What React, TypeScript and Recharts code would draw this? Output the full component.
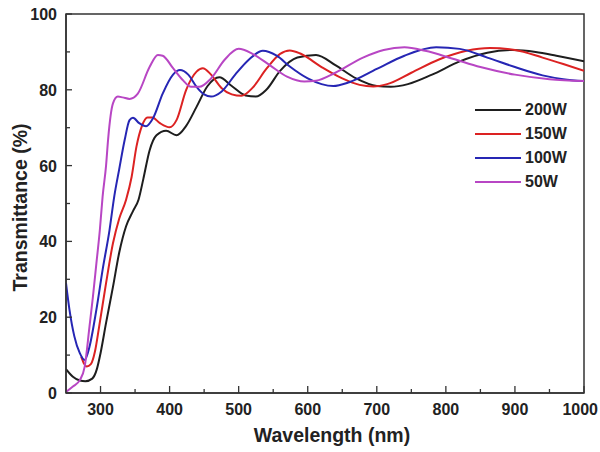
import React from 'react';
import { LineChart, Line, XAxis, YAxis, Legend, ReferenceArea, Label } from 'recharts';

// Wavelength (nm) / Transmittance (%) pairs for each sputtering power
const w200 = [250, 260, 270, 278, 288, 295, 300, 308, 318, 327, 337, 347, 355, 362, 371, 381, 395, 410, 424, 439, 455, 472, 490, 510, 525, 540, 560, 585, 612, 640, 670, 700, 720, 745, 780, 820, 860, 897, 930, 960, 1000];
const t200 = [6.3, 4.3, 3.3, 3.1, 3.8, 6.5, 10.5, 18.5, 28, 37, 44, 48, 51, 56.5, 64, 68, 69.2, 68, 70.5, 75.5, 81, 83.3, 81, 78.5, 78.2, 80, 85, 88.5, 89.2, 86.5, 83, 81, 80.8, 81.5, 84, 87.5, 89.8, 90.5, 90, 89, 87.5];

const w150 = [272, 276, 280, 286, 292, 298, 308, 318, 327, 337, 345, 352, 360, 368, 375, 386, 400, 410, 424, 439, 448, 460, 475, 490, 504, 520, 540, 560, 574, 590, 620, 650, 675, 695, 715, 750, 790, 830, 864, 900, 940, 970, 1000];
const t150 = [9.6, 7.8, 7.0, 7.6, 11, 17.5, 29, 39.5, 46, 51, 57, 65, 70.5, 72.7, 72.7, 71.2, 70.1, 72, 80, 84.8, 85.7, 84, 80.5, 78.8, 78.4, 80.5, 85.5, 89.5, 90.4, 89.5, 86, 83, 81.3, 80.9, 81.5, 84.5, 88, 90.3, 91, 90.5, 88.5, 86.8, 85];

const w100 = [250, 255, 262, 270, 277, 284, 294, 303, 313, 320, 327, 335, 342, 347, 356, 366, 376, 390, 405, 415, 427, 439, 450, 460, 475, 495, 515, 535, 555, 575, 600, 620, 637, 660, 700, 740, 786, 820, 860, 900, 940, 970, 1000];
const t100 = [29, 22, 15, 10.5, 8.7, 12.2, 22, 32.5, 43, 52, 59, 66.8, 72, 72.6, 71.2, 70.4, 72.5, 79, 84, 85.2, 84, 80.8, 78.8, 78.2, 79.5, 84, 88, 90.3, 89, 86, 83, 81.5, 81, 82, 85.5, 89, 91.2, 90.8, 88.5, 86, 83.8, 82.8, 82.3];

const w50 = [250, 260, 270, 277, 284, 289, 294, 299, 303, 308, 311, 318, 325, 332, 342, 354, 371, 383, 390, 405, 419, 431, 443, 460, 480, 500, 520, 545, 570, 595, 612, 640, 680, 710, 740, 770, 810, 850, 900, 950, 1000];
const t50 = [0.3, 1.7, 3.4, 6.9, 17.5, 25.4, 34.2, 43, 51.8, 60, 67, 76.4, 78.2, 78, 77.6, 79, 86, 89.2, 89, 85.7, 82.6, 80.8, 80.8, 83, 88, 90.8, 89.5, 86.5, 83.5, 82.2, 82.4, 84.5, 88.5, 90.5, 91.2, 90.3, 88.2, 86, 84, 82.8, 82.3];

const seriesNames = ['200W', '150W', '100W', '50W'];
const seriesColors = ['#1e1e1e', '#dc2222', '#2626b4', '#b846c4'];

const xTicks = [300, 350, 400, 450, 500, 550, 600, 650, 700, 750, 800, 850, 900, 950, 1000];
const yTicks = [0, 10, 20, 30, 40, 50, 60, 70, 80, 90, 100];

const toPoints = (w: number[], t: number[]) => w.map((x, i) => ({ x, y: t[i] }));
const seriesData = [toPoints(w200, t200), toPoints(w150, t150), toPoints(w100, t100), toPoints(w50, t50)];

const FONT = '"Liberation Sans", Arial, sans-serif';
const AXIS = '#333';

const XTick = (props: any) => {
  const { x, y, payload } = props;
  const v = payload.value;
  const major = v % 100 === 0;
  const last = v === xTicks[xTicks.length - 1];
  return (
    <g>
      <line x1={x} x2={x} y1={y} y2={y - (major ? 7 : 4)} stroke={AXIS} strokeWidth={1.3} />
      {major && (
        <text
          x={last ? x + 14 : x}
          y={y + 22}
          textAnchor={last ? 'end' : 'middle'}
          fontFamily={FONT}
          fontWeight="bold"
          fontSize={16}
          fill="#222"
        >
          {v}
        </text>
      )}
    </g>
  );
};

const YTick = (props: any) => {
  const { x, y, payload } = props;
  const v = payload.value;
  const major = v % 20 === 0;
  return (
    <g>
      <line x1={x} x2={x + (major ? 6 : 4)} y1={y} y2={y} stroke={AXIS} strokeWidth={1.3} />
      {major && (
        <text x={x - 9} y={y + 6} textAnchor="end" fontFamily={FONT} fontWeight="bold" fontSize={16} fill="#222">
          {v}
        </text>
      )}
    </g>
  );
};

const LegendContent = () => (
  <div style={{ fontFamily: FONT, fontWeight: 'bold', fontSize: 16, color: '#222' }}>
    {seriesNames.map((name, i) => (
      <div key={name} style={{ display: 'flex', alignItems: 'center', height: 24 }}>
        <svg width={46} height={6} style={{ marginRight: 4 }}>
          <line x1={0} x2={46} y1={3} y2={3} stroke={seriesColors[i]} strokeWidth={2} />
        </svg>
        <span>{name}</span>
      </div>
    ))}
  </div>
);

export default function App() {
  return (
    <div style={{ position: 'absolute', left: 0, top: 0, width: 600, height: 452, background: '#fff' }}>
      <LineChart width={600} height={452} margin={{ top: 14, right: 16, bottom: 0, left: 0 }}>
        <XAxis
          type="number"
          dataKey="x"
          domain={[250, 1000]}
          ticks={xTicks}
          interval={0}
          tickLine={false}
          tickSize={0}
          tickMargin={0}
          tick={<XTick />}
          axisLine={{ stroke: AXIS, strokeWidth: 1.5 }}
          height={59}
          allowDataOverflow
        >
          <Label
            content={(p: any) => {
              const vb = p.viewBox;
              return (
                <text x={vb.x + vb.width / 2 + 7} y={vb.y + 49} textAnchor="middle" fontFamily={FONT} fontWeight="bold" fontSize={19.5} fill="#222">
                  Wavelength (nm)
                </text>
              );
            }}
          />
        </XAxis>
        <YAxis
          type="number"
          domain={[0, 100]}
          ticks={yTicks}
          interval={0}
          tickLine={false}
          tickSize={0}
          tickMargin={0}
          tick={<YTick />}
          axisLine={{ stroke: AXIS, strokeWidth: 1.5 }}
          width={66}
          allowDataOverflow
        >
          <Label
            content={(p: any) => {
              const vb = p.viewBox;
              const cx = vb.x + 20;
              const cy = vb.y + vb.height / 2 + 4;
              return (
                <text x={cx} y={cy} transform={`rotate(-90 ${cx} ${cy})`} textAnchor="middle" dominantBaseline="central" fontFamily={FONT} fontWeight="bold" fontSize={19.5} fill="#222">
                  Transmittance (%)
                </text>
              );
            }}
          />
        </YAxis>
        <ReferenceArea x1={250} x2={1000} y1={0} y2={100} fill="none" stroke={AXIS} strokeWidth={1.5} ifOverflow="visible" />
        {seriesData.map((d, i) => (
          <Line
            key={seriesNames[i]}
            data={d}
            dataKey="y"
            name={seriesNames[i]}
            type="monotone"
            stroke={seriesColors[i]}
            strokeWidth={2}
            dot={false}
            activeDot={false}
            isAnimationActive={false}
          />
        ))}
        <Legend
          layout="vertical"
          align="center"
          verticalAlign="middle"
          content={<LegendContent />}
          wrapperStyle={{ left: 475, top: 98, width: 110, height: 100 }}
        />
      </LineChart>
    </div>
  );
}
